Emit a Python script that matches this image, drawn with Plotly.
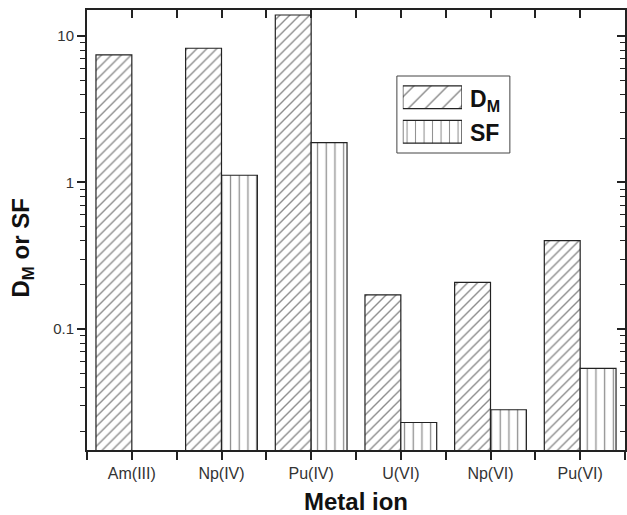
import plotly.graph_objects as go

# ---- data ----
categories = ["Am(III)", "Np(IV)", "Pu(IV)", "U(VI)", "Np(VI)", "Pu(VI)"]
d_m = [7.42, 8.24, 13.9, 0.171, 0.208, 0.401]
sf = [None, 1.12, 1.87, 0.0230, 0.0281, 0.0539]
series_names = ["D<sub>M</sub>", "SF"]
y_tick_vals = [0.1, 1, 10]
y_tick_text = ["0.1", "1", "10"]

FONT = "Liberation Sans, Arial, sans-serif"
LINE = "#222"
HATCH = "#1a1a1a"

xpos = list(range(len(categories)))
half_steps = [i - 0.5 for i in range(len(categories) + 1)]
all_steps = sorted(xpos + half_steps)
minor_y = [m * 10 ** e for e in (-2, -1, 0, 1) for m in range(2, 10)]
yrange = [-1.826, 1.177]

fig = go.Figure()

fig.add_trace(go.Bar(
    x=xpos, y=d_m, name=series_names[0],
    marker=dict(color="white", line=dict(color=LINE, width=1.2),
                pattern=dict(shape="/", size=7, solidity=0.2, fgcolor=HATCH, bgcolor="white")),
    showlegend=False,
))
fig.add_trace(go.Bar(
    x=xpos, y=sf, name=series_names[1],
    marker=dict(color="white", line=dict(color=LINE, width=1.2),
                pattern=dict(shape="|", size=8.7, solidity=0.15, fgcolor=HATCH, bgcolor="white")),
    showlegend=False,
))

# legend swatches drawn as bars in a small inset axis
fig.add_trace(go.Bar(
    y=series_names[::-1], x=[1, 1], orientation="h", width=[0.66, 0.66],
    xaxis="x3", yaxis="y3", showlegend=False, hoverinfo="skip",
    marker=dict(color="white", line=dict(color=LINE, width=1.2),
                pattern=dict(shape=["|", "/"], size=[8.5, 12], solidity=0.12,
                             fgcolor=HATCH, bgcolor="white")),
))

# invisible trace so the mirror axes get drawn
fig.add_trace(go.Scatter(x=[0], y=[1], xaxis="x2", yaxis="y2", mode="markers",
                         marker=dict(opacity=0), showlegend=False, hoverinfo="skip"))

tickfont = dict(family=FONT, size=16, color="#333")

fig.update_layout(
    width=627, height=515,
    margin=dict(l=87, r=2, t=10, b=65),
    paper_bgcolor="white", plot_bgcolor="white",
    barmode="group", bargap=0.2, bargroupgap=0,
    font=dict(family=FONT),
    xaxis=dict(
        automargin=False,
        range=[-0.5, len(categories) - 0.5], tickmode="array",
        tickvals=xpos, ticktext=categories, tickfont=tickfont,
        ticks="outside", ticklen=8, tickwidth=1.5, tickcolor=LINE,
        minor=dict(tickmode="array", tickvals=half_steps, ticks="outside",
                   ticklen=8, tickwidth=1.5, tickcolor=LINE),
        showline=True, linewidth=2, linecolor=LINE, mirror=True,
        showgrid=False, zeroline=False,
        title=dict(text="<b>Metal ion</b>", font=dict(family=FONT, size=24, color="#111"),
                   standoff=12),
    ),
    yaxis=dict(
        automargin=False,
        type="log", range=yrange, tickmode="array",
        tickvals=y_tick_vals, ticktext=y_tick_text,
        tickfont=dict(family=FONT, size=15, color="#333"),
        ticks="outside", ticklen=8, tickwidth=1.5, tickcolor=LINE,
        minor=dict(tickmode="array", tickvals=minor_y, ticks="outside",
                   ticklen=5, tickwidth=1.3, tickcolor=LINE, showgrid=False),
        showline=True, linewidth=2, linecolor=LINE, mirror=True,
        showgrid=False, zeroline=False,
    ),
    xaxis2=dict(
        automargin=False,
        overlaying="x", side="top", anchor="y2",
        range=[-0.5, len(categories) - 0.5], tickmode="array",
        tickvals=all_steps, showticklabels=False,
        ticks="inside", ticklen=8, tickwidth=1.5, tickcolor=LINE,
        showline=False, showgrid=False, zeroline=False,
    ),
    yaxis2=dict(
        automargin=False,
        overlaying="y", side="right", anchor="x2", type="log", range=yrange,
        tickmode="array", tickvals=y_tick_vals, showticklabels=False,
        ticks="inside", ticklen=8, tickwidth=1.5, tickcolor=LINE,
        minor=dict(tickmode="array", tickvals=minor_y, ticks="inside",
                   ticklen=5, tickwidth=1.3, tickcolor=LINE, showgrid=False),
        showline=False, showgrid=False, zeroline=False,
    ),
    xaxis3=dict(automargin=False, domain=[0.587, 0.697], anchor="y3", range=[0, 1],
                visible=False, fixedrange=True),
    yaxis3=dict(automargin=False, domain=[0.684, 0.841], anchor="x3", range=[-0.5, 1.5],
                visible=False, fixedrange=True),
    shapes=[dict(type="rect", xref="paper", yref="paper",
                 x0=0.576, x1=0.786, y0=0.675, y1=0.85,
                 line=dict(color="#444", width=1), fillcolor="rgba(0,0,0,0)", layer="below")],
    annotations=[
        dict(text="<b>" + series_names[0] + "</b>", xref="paper", yref="paper",
             x=0.708, y=0.795, xanchor="left", yanchor="middle", showarrow=False,
             font=dict(family=FONT, size=23, color="#111")),
        dict(text="<b>" + series_names[1] + "</b>", xref="paper", yref="paper",
             x=0.708, y=0.72, xanchor="left", yanchor="middle", showarrow=False,
             font=dict(family=FONT, size=23, color="#111")),
        dict(text="<b>D<sub>M</sub> or SF</b>", xref="paper", yref="paper",
             x=-0.12, y=0.459, xanchor="center", yanchor="middle", textangle=-90,
             showarrow=False, font=dict(family=FONT, size=24, color="#111")),
    ],
)

fig.write_html("out.html", config={"displayModeBar": False},
               post_script="document.body.style.margin='0';")
